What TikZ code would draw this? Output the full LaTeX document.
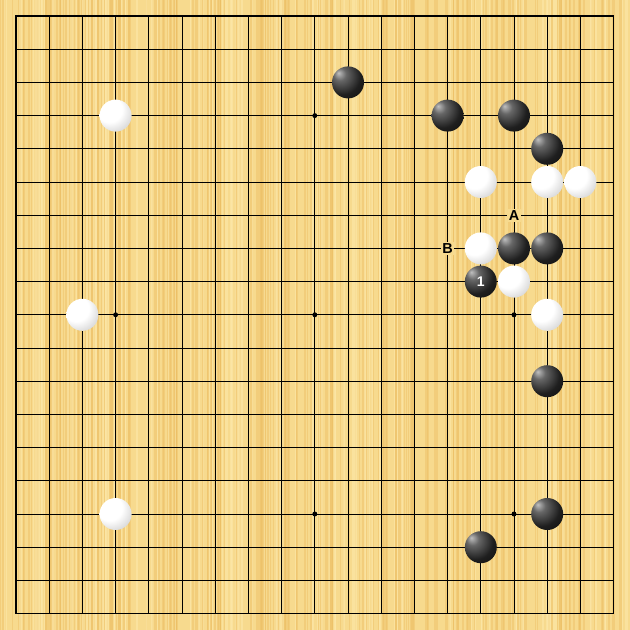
\documentclass[tikz,border=0pt]{standalone}
\usepackage{fontspec}
\setmainfont{Liberation Sans}
\definecolor{boardbg}{RGB}{247,218,142}
\definecolor{grain}{RGB}{236,190,100}
\definecolor{grainlt}{RGB}{252,232,170}
\pgfdeclareradialshading{blackstone}{\pgfpoint{-15bp}{15bp}}{color(0bp)=(black!25); color(10bp)=(black!60); color(28bp)=(black!88); color(50bp)=(black!97); color(70bp)=(black)}
\pgfdeclareradialshading{whitestone}{\pgfpoint{-14bp}{14bp}}{color(0bp)=(white); color(20bp)=(white); color(44bp)=(black!25); color(66bp)=(black!55)}
\tikzset{
  bstone/.style={circle, minimum size=0.964*0.5cm, inner sep=0pt, shading=blackstone},
  wstone/.style={circle, minimum size=0.964*0.5cm, inner sep=0pt, shading=whitestone},
  gridline/.style={line width=0.42pt, black},
  borderline/.style={line width=0.6pt, black},
  hoshi/.style={circle, fill=black, minimum size=0.075cm, inner sep=0pt},
  marklabel/.style={fill=boardbg, inner sep=0.6pt, font=\fontsize{6.2}{7}\selectfont\bfseries, text=black},
  numlabel/.style={font=\fontsize{6}{7}\selectfont\bfseries, text=white}
}
\begin{document}
\begin{tikzpicture}[x=0.5cm,y=-0.5cm]
\useasboundingbox (-0.482,-0.482) rectangle (18.494,18.494);
\fill[boardbg] (-0.482,-0.482) rectangle (18.494,18.494);
\pgfmathsetseed{7}
\foreach \i in {1,...,260}{
  \pgfmathsetmacro{\gx}{-0.48+18.97*rnd}
  \pgfmathsetmacro{\gw}{0.2+0.8*rnd}
  \draw[grain, opacity=0.45, line width=\gw pt] (\gx,-0.482) -- (\gx,18.494);
}
\foreach \i in {1,...,120}{
  \pgfmathsetmacro{\gx}{-0.48+18.97*rnd}
  \draw[grainlt, opacity=0.6, line width=0.6pt] (\gx,-0.482) -- (\gx,18.494);
}
% grid
\foreach \k in {1,...,17}{
  \draw[gridline] (\k,0) -- (\k,18);
  \draw[gridline] (0,\k) -- (18,\k);
}
\draw[borderline] (0,0) rectangle (18,18);
% star points
\foreach \cx/\cy [count=\n] in {3/3,9/3,15/3,3/9,9/9,15/9,3/15,9/15,15/15}{
  \node[hoshi] (h\n) at (\cx,\cy) {};
}
% labels
\node[marklabel] (labA) at (15,6) {A};
\node[marklabel] (labB) at (13,7) {B};
% black stones
\node[bstone] (b1) at (10,2) {};
\node[bstone] (b2) at (13,3) {};
\node[bstone] (b3) at (15,3) {};
\node[bstone] (b4) at (16,4) {};
\node[bstone] (b5) at (15,7) {};
\node[bstone] (b6) at (16,7) {};
\node[bstone] (b7) at (14,8) {};
\node[bstone] (b8) at (16,11) {};
\node[bstone] (b9) at (16,15) {};
\node[bstone] (b10) at (14,16) {};
% white stones
\node[wstone] (w1) at (3,3) {};
\node[wstone] (w2) at (14,5) {};
\node[wstone] (w3) at (16,5) {};
\node[wstone] (w4) at (17,5) {};
\node[wstone] (w5) at (14,7) {};
\node[wstone] (w6) at (15,8) {};
\node[wstone] (w7) at (16,9) {};
\node[wstone] (w8) at (2,9) {};
\node[wstone] (w9) at (3,15) {};
% move number
\node[numlabel] (n1) at (b7) {1};
\end{tikzpicture}
\end{document}
